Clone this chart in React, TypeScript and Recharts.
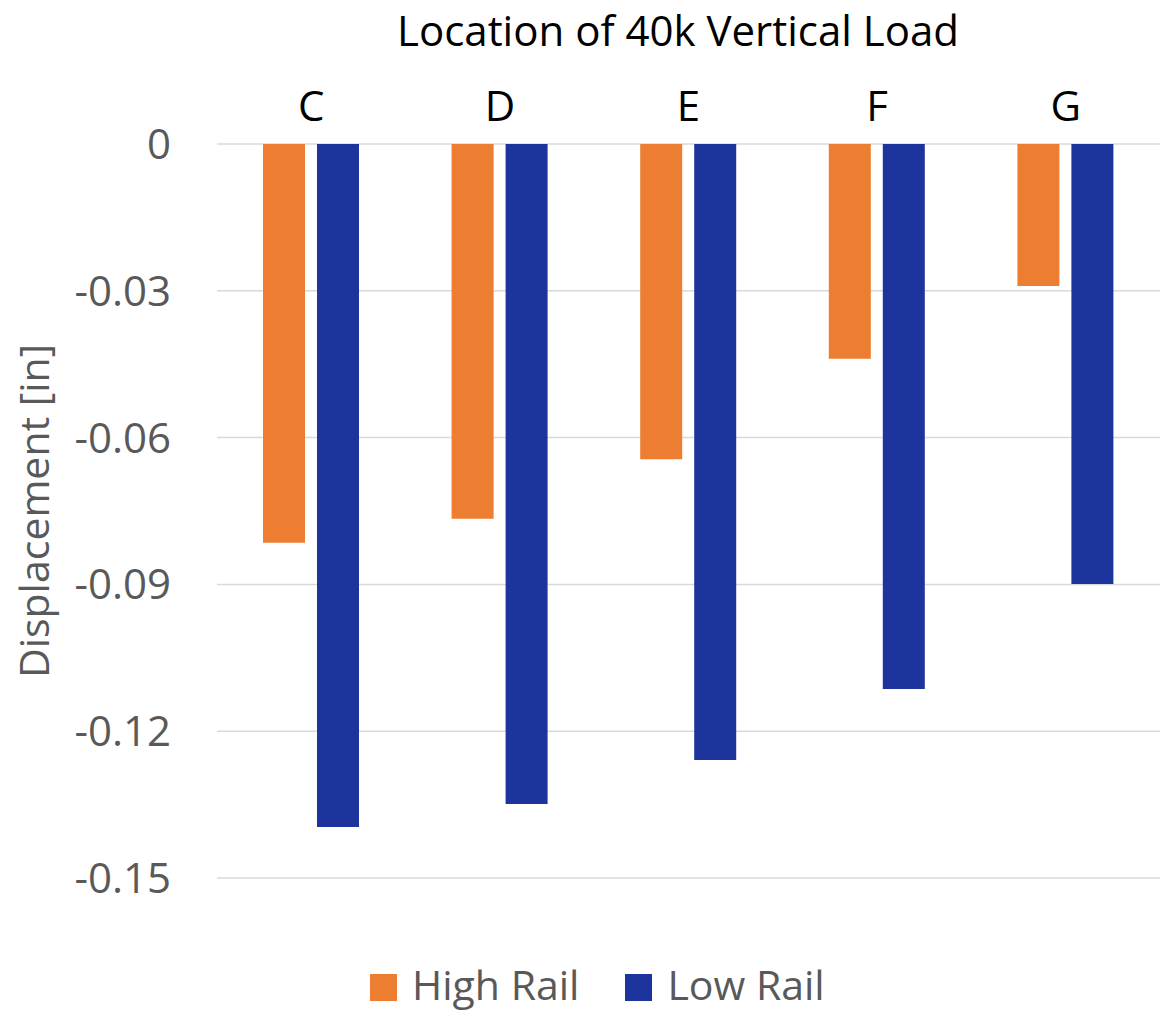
import { BarChart, Bar, XAxis, YAxis, CartesianGrid, Legend } from 'recharts';

// load positions along the rail
const categories = ['C', 'D', 'E', 'F', 'G'];
// vertical displacement [in]
const highRail = [-0.0815, -0.0766, -0.0644, -0.0439, -0.029];
const lowRail = [-0.1396, -0.1349, -0.1259, -0.1114, -0.0899];
const yTicks = [0, -0.03, -0.06, -0.09, -0.12, -0.15];

const data = categories.map((name, i) => ({
  name,
  high: highRail[i],
  low: lowRail[i],
}));

const renderLegend = (props: any) => {
  const { payload = [] } = props;
  return (
    <div style={{ display: 'flex', alignItems: 'flex-start', height: 40, paddingLeft: 370 }}>
      {payload.map((entry: any, index: number) => (
        <div key={`item-${index}`} style={{ display: 'flex', alignItems: 'flex-start', marginRight: 46 }}>
          <div style={{ width: 27, height: 27, background: entry.color, marginTop: 10, marginRight: 15 }}></div>
          <span style={{ color: '#595959', fontSize: 41, lineHeight: '40px', whiteSpace: 'nowrap' }}>{entry.value}</span>
        </div>
      ))}
    </div>
  );
};

export default function App() {
  return (
    <div style={{ position: 'absolute', left: 0, top: 0, width: 1163, height: 1010, background: '#fff', fontFamily: '"Open Sans", sans-serif' }}>
      <div
        style={{
          position: 'absolute',
          top: 4,
          left: 678,
          transform: 'translateX(-50%)',
          fontSize: 42,
          lineHeight: '52px',
          color: '#000',
          whiteSpace: 'nowrap',
        }}
      >
        Location of 40k Vertical Load
      </div>
      <BarChart
        width={1163}
        height={1010}
        data={data}
        margin={{ top: 80, right: 3, left: 0, bottom: 92 }}
        barSize={42}
        barGap={12}
      >
        <CartesianGrid vertical={false} stroke="#D9D9D9" strokeWidth={1.5} />
        <XAxis
          dataKey="name"
          orientation="top"
          height={64}
          axisLine={false}
          tickLine={false}
          tickSize={0}
          tickMargin={23}
          tick={{ fill: '#000', fontSize: 42 }}
        />
        <YAxis
          domain={[-0.15, 0]}
          ticks={yTicks}
          width={217}
          axisLine={false}
          tickLine={false}
          tickSize={0}
          tickMargin={46}
          tick={{ fill: '#595959', fontSize: 42 }}
          tickFormatter={(v: number) => (v === 0 ? '0' : v.toFixed(2))}
          label={{
            value: 'Displacement [in]',
            angle: -90,
            position: 'insideLeft',
            offset: 34,
            fill: '#595959',
            fontSize: 41,
            style: { textAnchor: 'middle' },
          }}
        />
        <Legend verticalAlign="bottom" content={renderLegend} wrapperStyle={{ bottom: 6, left: 0 }} />
        <Bar dataKey="high" name="High Rail" fill="#ED7D31" isAnimationActive={false} />
        <Bar dataKey="low" name="Low Rail" fill="#1C349B" isAnimationActive={false} />
      </BarChart>
    </div>
  );
}
